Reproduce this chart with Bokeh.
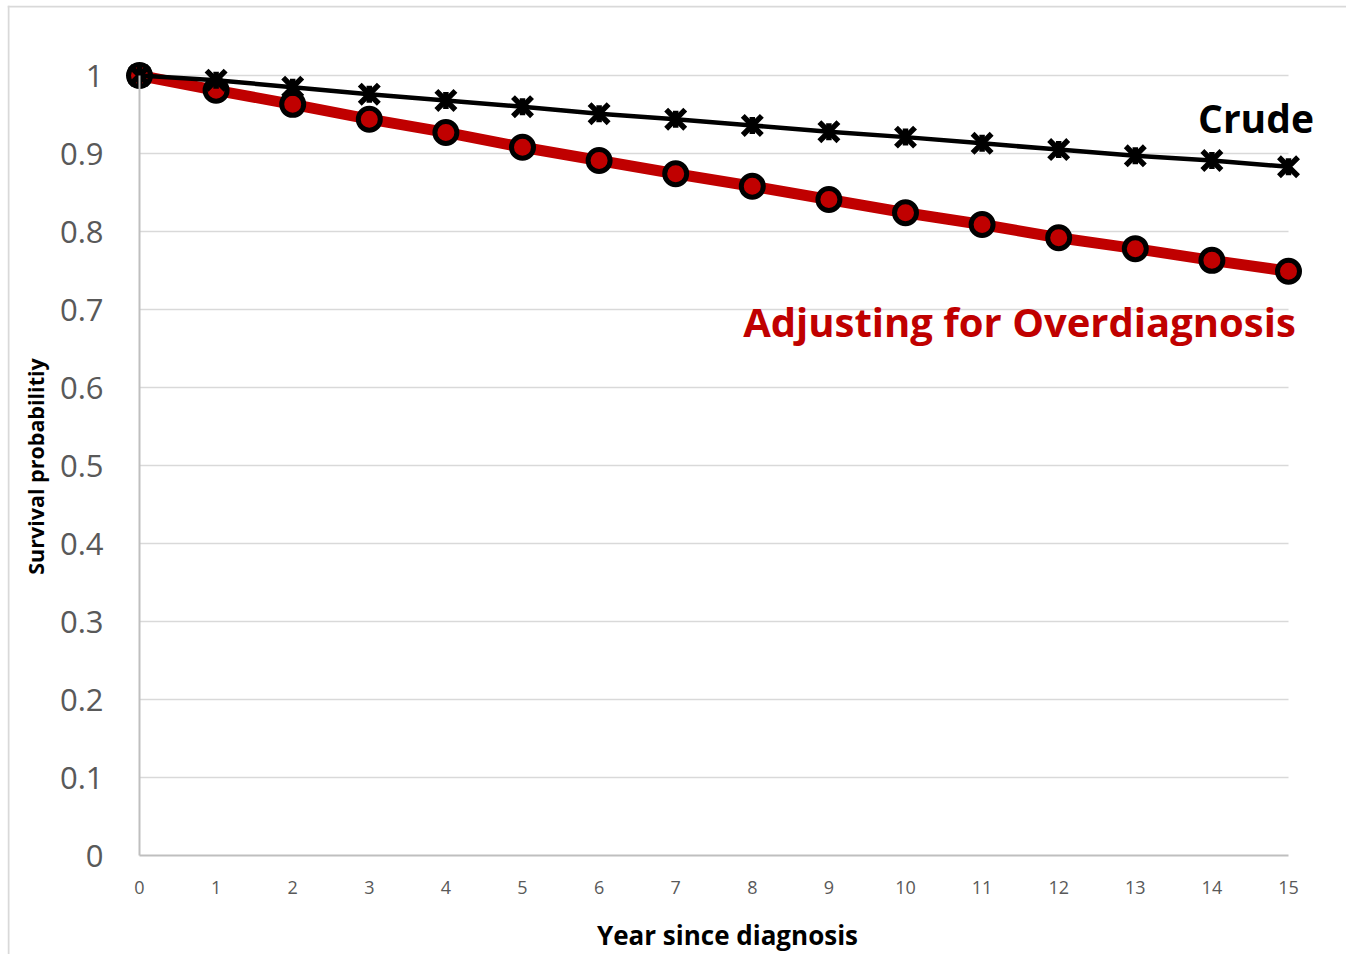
import math
from bokeh.plotting import figure
from bokeh.models import Range1d, FixedTicker, Label, Span
from bokeh.embed import file_html
from bokeh.resources import INLINE

# ---- data ----
years = list(range(16))
crude = [1.0, 0.994, 0.985, 0.976, 0.968, 0.960, 0.951, 0.944, 0.936,
         0.928, 0.921, 0.913, 0.905, 0.897, 0.891, 0.883]
adjusted = [1.0, 0.981, 0.963, 0.944, 0.927, 0.908, 0.891, 0.874, 0.858,
            0.841, 0.824, 0.809, 0.792, 0.778, 0.763, 0.749]
y_ticks = [0, 0.1, 0.2, 0.3, 0.4, 0.5, 0.6, 0.7, 0.8, 0.9, 1]
y_tick_labels = ["0", "0.1", "0.2", "0.3", "0.4", "0.5", "0.6", "0.7", "0.8", "0.9", "1"]
x_ticks = years
series_names = ["Crude", "Adjusting for Overdiagnosis"]
x_title = "Year since diagnosis"
y_title = "Survival probabilitiy"

FONT = "Open Sans"
RED = "#C00000"
TICK_COL = "#595959"
GRID_COL = "#D9D9D9"
AXIS_COL = "#BFBFBF"

# layout: x=0 at px 139, x=15 at px 1288 ; y=0 at px 855, y=1 at px 75
W, H = 1346, 954
X0PX, XSC = 139.0, (1288.0 - 139.0) / 15.0
Y0PX, YSC = 855.0, 780.0
LEFT, TOP = 7, 5

def dx(px):
    return (px - X0PX) / XSC

def dy(py):
    return (Y0PX - py) / YSC

p = figure(width=W, height=H,
           x_range=Range1d(dx(LEFT), dx(W)),
           y_range=Range1d(dy(H), dy(TOP)),
           output_backend="svg", toolbar_location=None,
           min_border_left=LEFT, min_border_right=0,
           min_border_top=TOP, min_border_bottom=0)
p.outline_line_color = None
p.xgrid.visible = False
p.ygrid.visible = False
p.background_fill_color = "white"
p.border_fill_color = "white"

# outer chart border (left and top visible)
p.add_layout(Span(location=dx(8), dimension="height", line_color=GRID_COL, line_width=2))
p.add_layout(Span(location=dy(6), dimension="width", line_color=GRID_COL, line_width=2))

# gridlines
p.segment(x0=x_ticks[0], x1=x_ticks[-1], y0=y_ticks[1:], y1=y_ticks[1:],
          line_color=GRID_COL, line_width=1.5)

# axes
xa = p.xaxis[0]
xa.fixed_location = 0
xa.bounds = (x_ticks[0], x_ticks[-1])
xa.ticker = FixedTicker(ticks=x_ticks)
xa.minor_tick_line_color = None
xa.major_tick_line_color = None
xa.major_tick_out = 0
xa.major_tick_in = 0
xa.axis_line_color = AXIS_COL
xa.axis_line_width = 2
xa.major_label_standoff = 25
xa.major_label_text_font = FONT
xa.major_label_text_font_size = "18px"
xa.major_label_text_color = TICK_COL

ya = p.yaxis[0]
ya.fixed_location = 0
ya.bounds = (y_ticks[0], y_ticks[-1])
ya.ticker = FixedTicker(ticks=y_ticks)
ya.major_label_overrides = {t: l for t, l in zip(y_ticks, y_tick_labels)}
ya.minor_tick_line_color = None
ya.major_tick_line_color = None
ya.major_tick_out = 0
ya.major_tick_in = 0
ya.axis_line_color = AXIS_COL
ya.axis_line_width = 2
ya.major_label_standoff = 36
ya.major_label_text_font = FONT
ya.major_label_text_font_size = "31px"
ya.major_label_text_color = TICK_COL

# adjusted series (red)
p.line(years, adjusted, line_color=RED, line_width=11)
p.scatter(years, adjusted, marker="circle", size=22, fill_color=RED,
          line_color="black", line_width=5)

# crude series (black)
p.line(years, crude, line_color="black", line_width=4.5)
p.scatter(years, crude, marker="x", size=27, line_color="black", line_width=5.5)
p.scatter(years, crude, marker="dash", angle=math.pi / 2, size=17,
          line_color="black", line_width=5.5)

def label(text, cx, base_py, size, color, angle=0.0, baseline="alphabetic"):
    shift = 0.4 * size if baseline == "alphabetic" else 0.0
    p.add_layout(Label(x=dx(cx), y=dy(base_py - shift), text=text, angle=angle,
                       text_font=FONT, text_font_style="bold",
                       text_font_size=f"{size}px", text_color=color,
                       text_align="center", text_baseline=baseline))

# series labels
label(series_names[0], 1255.5, 133, 39, "black")
label(series_names[1], 1019, 337, 40, RED)

# axis titles
label(x_title, 727, 945, 26, "black")
label(y_title, 35, 466, 21.5, "black", angle=math.pi / 2, baseline="middle")

open("out.html", "w").write(file_html(p, INLINE))
